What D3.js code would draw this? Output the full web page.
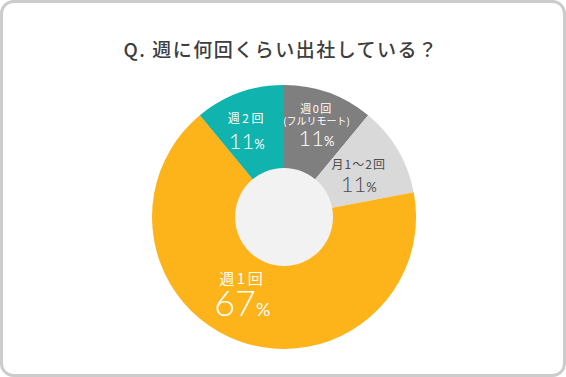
<!DOCTYPE html>
<html>
<head>
<meta charset="utf-8">
<script src="https://cdn.jsdelivr.net/npm/d3@7"></script>
<style>
  html, body { margin: 0; padding: 0; background: #fff; }
  svg { display: block; font-family: "Noto Sans CJK JP", "Noto Sans", sans-serif; }
</style>
</head>
<body>
<svg id="chart" width="566" height="377"></svg>
<script>
var title = 'Q. 週に何回くらい出社している？';
var categories = ['週0回', '月1〜2回', '週1回', '週2回'];
var subLabels = ['(フルリモート)', '', '', ''];
var values = [11, 11, 67, 11];
var colours = ['#7f7f7f', '#d9d9d9', '#fdb31a', '#10b3ad'];
var textColours = ['#fff', '#4d4d4d', '#fff', '#fff'];

var svg = d3.select('#chart');
var width = 566, height = 377;
var cx = 284, cy = 217, outerR = 132, innerR = 49;

// frame
svg.append('rect')
    .attr('x', 1.5).attr('y', 1.5)
    .attr('width', width - 3).attr('height', height - 3)
    .attr('rx', 12).attr('ry', 12)
    .style('fill', '#fff')
    .style('stroke', '#cccccc')
    .style('stroke-width', 3);

svg.append('text')
    .attr('x', 281).attr('y', 57)
    .style('text-anchor', 'middle')
    .style('font-size', '19px')
    .style('font-weight', 500)
    .style('letter-spacing', '1.5px')
    .style('fill', '#3d3d3d')
    .text(title);

var pie = d3.pie().sort(null).value(function(d) { return d; });
var arcs = pie(values);
var arc = d3.arc().innerRadius(0).outerRadius(outerR);

var g = svg.append('g').attr('transform', 'translate(' + cx + ',' + cy + ')');

g.selectAll('path.slice')
    .data(arcs)
    .enter().append('path')
    .attr('class', 'slice')
    .attr('d', arc)
    .style('fill', function(d, i) { return colours[i]; });

g.append('circle')
    .attr('r', innerR)
    .style('fill', '#f2f2f2');

// label placement (radius, angle nudge in degrees, text sizes)
var labelStyle = [
    { r: 96, nudge: 0, cat: 11, pct: 22, pctSmall: 13, gap: 21, ls: 1.5 },
    { r: 86, nudge: 1, cat: 12, pct: 22, pctSmall: 13, gap: 23, ls: 1 },
    { r: 84, nudge: 10, cat: 15, pct: 36, pctSmall: 18, gap: 32, ls: 2.5 },
    { r: 96, nudge: -3, cat: 12, pct: 22, pctSmall: 13, gap: 26, ls: 2.5 }
];

arcs.forEach(function(d, i) {
    var s = labelStyle[i];
    var a = (d.startAngle + d.endAngle) / 2 + s.nudge * Math.PI / 180;
    var x = Math.sin(a) * s.r, y = -Math.cos(a) * s.r;
    var lg = g.append('g').attr('transform', 'translate(' + x + ',' + y + ')')
        .style('fill', textColours[i])
        .style('text-anchor', 'middle');
    var top = subLabels[i] ? -14 : -6;
    lg.append('text')
        .attr('y', top)
        .style('font-size', s.cat + 'px')
        .style('letter-spacing', s.ls + 'px')
        .text(categories[i]);
    if (subLabels[i]) {
        lg.append('text')
            .attr('y', top + 12)
            .style('font-size', '10px')
            .text(subLabels[i]);
    }
    var t = lg.append('text')
        .attr('y', (subLabels[i] ? top + 12 : top) + s.gap)
        .style('font-family', 'Lato, "Noto Sans", sans-serif')
        .style('font-weight', 300);
    t.append('tspan').style('font-size', s.pct + 'px').text(values[i]);
    t.append('tspan').style('font-size', s.pctSmall + 'px').style('font-weight', 400).text('%');
});
</script>
</body>
</html>
